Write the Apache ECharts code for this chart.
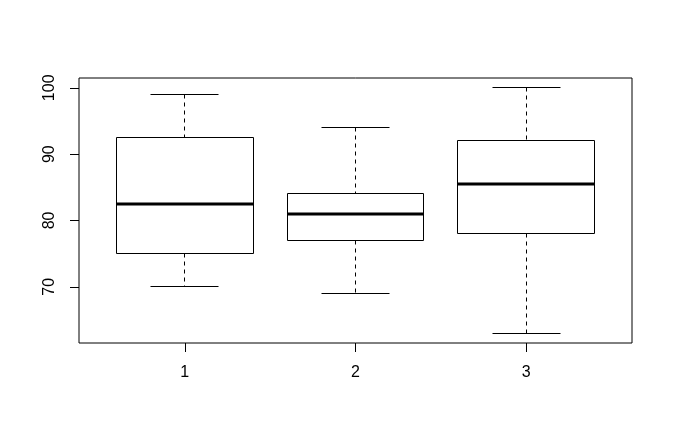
<!DOCTYPE html>
<html>
<head>
<meta charset="utf-8">
<script src="https://cdn.jsdelivr.net/npm/echarts@6/dist/echarts.min.js"></script>
<style>
html,body{margin:0;padding:0;background:#fff;}
#c{width:673px;height:441px;}
</style>
</head>
<body>
<div id="c"></div>
<script>
var groups = [1, 2, 3];
var lowWhisker = [70, 69, 63];
var q1 = [75, 77, 78];
var median = [82.5, 81, 85.5];
var q3 = [92.5, 84, 92];
var highWhisker = [99, 94, 100];
var yTicks = [70, 80, 90, 100];

var data = groups.map(function (g, i) {
  return [g, lowWhisker[i], q1[i], median[i], q3[i], highWhisker[i]];
});

function snap(v) { return Math.round(v - 0.5) + 0.5; }

var chart = echarts.init(document.getElementById('c'), null, {renderer: 'canvas'});
chart.setOption({
  backgroundColor: '#fff',
  animation: false,
  grid: {left: 79, right: 41, top: 78, bottom: 98, show: true, borderColor: '#000', borderWidth: 1, backgroundColor: 'transparent'},
  xAxis: {
    type: 'value', min: 0.38, max: 3.62,
    axisLine: {show: false},
    splitLine: {show: false},
    axisTick: {show: true, length: 9, customValues: groups, lineStyle: {color: '#000', width: 1}},
    axisLabel: {show: true, customValues: groups, margin: 22, color: '#000', fontSize: 16, fontFamily: 'Liberation Sans, Arial, sans-serif'}
  },
  yAxis: {
    type: 'value', min: 61.52, max: 101.48,
    axisLine: {show: false},
    splitLine: {show: false},
    axisTick: {show: true, length: 9, customValues: yTicks, lineStyle: {color: '#000', width: 1}},
    axisLabel: {show: true, customValues: yTicks, rotate: 90, margin: 21, color: '#000', fontSize: 16, fontFamily: 'Liberation Sans, Arial, sans-serif'}
  },
  series: [{
    type: 'custom',
    data: data,
    encode: {x: 0, y: [1, 2, 3, 4, 5]},
    renderItem: function (params, api) {
      var g = api.value(0);
      var lo = api.coord([g, api.value(1)]);
      var b1 = api.coord([g, api.value(2)]);
      var md = api.coord([g, api.value(3)]);
      var b3 = api.coord([g, api.value(4)]);
      var hi = api.coord([g, api.value(5)]);
      var boxL = api.coord([g - 0.4, 0])[0];
      var boxR = api.coord([g + 0.4, 0])[0];
      var capL = api.coord([g - 0.2, 0])[0];
      var capR = api.coord([g + 0.2, 0])[0];
      var cx = snap(lo[0]);
      var stroke = {stroke: '#000', lineWidth: 1, fill: null};
      var dashed = {stroke: '#000', lineWidth: 1, lineDash: [4, 4]};
      var yl = snap(lo[1]), y1 = snap(b1[1]), y3 = snap(b3[1]), yh = snap(hi[1]);
      var xl = snap(boxL), xr = snap(boxR);
      return {
        type: 'group',
        children: [
          {type: 'line', shape: {x1: cx, y1: yh, x2: cx, y2: y3}, style: dashed},
          {type: 'line', shape: {x1: cx, y1: y1, x2: cx, y2: yl}, style: dashed},
          {type: 'line', shape: {x1: snap(capL), y1: yh, x2: snap(capR), y2: yh}, style: stroke},
          {type: 'line', shape: {x1: snap(capL), y1: yl, x2: snap(capR), y2: yl}, style: stroke},
          {type: 'rect', shape: {x: xl, y: y3, width: xr - xl, height: y1 - y3}, style: {stroke: '#000', lineWidth: 1, fill: '#fff'}},
          {type: 'line', shape: {x1: xl, y1: Math.round(md[1]), x2: xr, y2: Math.round(md[1])}, style: {stroke: '#000', lineWidth: 3}}
        ]
      };
    }
  }]
});
</script>
</body>
</html>
